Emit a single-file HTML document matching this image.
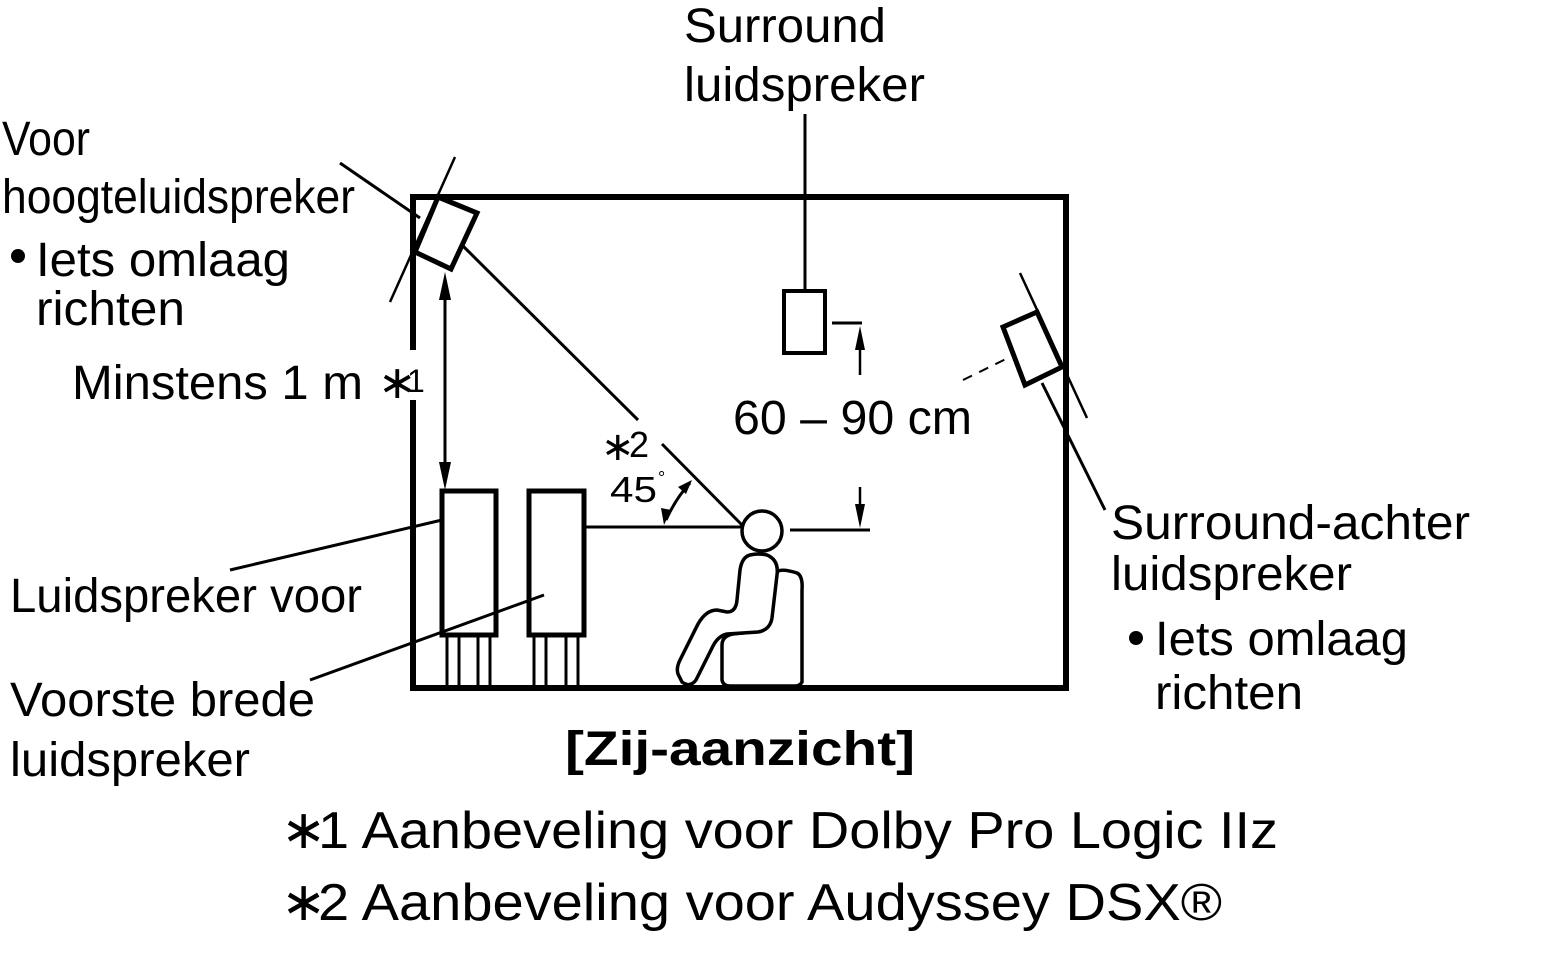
<!DOCTYPE html>
<html><head><meta charset="utf-8"><style>
html,body{margin:0;padding:0;background:#fff}
svg{display:block}
text{font-family:"Liberation Sans",sans-serif;font-size:48px;fill:#000}
</style></head><body>
<svg width="1560" height="956" viewBox="0 0 1560 956" xmlns="http://www.w3.org/2000/svg">
<g fill="none" stroke="#000">
<path d="M413,350 V197 H1066 V688 H413 V400" stroke-width="6"/>
<polygon points="438,197 477,213 451,269 415,252" fill="#fff" stroke-width="5"/>
<line x1="340" y1="163" x2="420" y2="218" stroke-width="3"/>
<line x1="455" y1="157" x2="390" y2="302" stroke-width="2.5"/>
<line x1="463" y1="246" x2="638" y2="420" stroke-width="3"/>
<line x1="662" y1="444" x2="742" y2="525" stroke-width="3"/>
<line x1="445" y1="300" x2="445" y2="462" stroke-width="3"/>
<path d="M445,272 L439,300 L451,300z M445,490 L439,462 L451,462z" fill="#000" stroke="none"/>
<rect x="442" y="491" width="54" height="144" fill="#fff" stroke-width="5"/>
<rect x="529" y="491" width="55" height="144" fill="#fff" stroke-width="5"/>
<g stroke-width="3">
<line x1="447" y1="636" x2="447" y2="686"/><line x1="459" y1="636" x2="459" y2="686"/><line x1="478" y1="636" x2="478" y2="686"/><line x1="490" y1="636" x2="490" y2="686"/>
<line x1="534" y1="636" x2="534" y2="686"/><line x1="546" y1="636" x2="546" y2="686"/><line x1="566" y1="636" x2="566" y2="686"/><line x1="578" y1="636" x2="578" y2="686"/>
</g>
<line x1="230" y1="570" x2="442" y2="520" stroke-width="3"/>
<line x1="310" y1="680" x2="544" y2="595" stroke-width="3"/>
<line x1="586" y1="527" x2="742" y2="527" stroke-width="3"/>
<path d="M666,520 Q676,498 690,483" stroke-width="3"/>
<path d="M664,525 L661,508 L671,510z M692,480 L678,487 L686,494z" fill="#000" stroke="none"/>
<circle cx="762" cy="531" r="20" stroke-width="3.5" fill="#fff"/>
<path d="M777,572 Q781,568 797,573 Q803,576 802,590 L802,682 Q800,686 795,686 L730,686 Q723,686 722,680 L722,645 Q722,636 733,634 L752,632" stroke-width="3.5" fill="#fff"/>
<path d="M750,555 Q758,553 767,555 Q779,560 777,575 L772,618 Q770,630 758,632 L727,634 Q718,636 713,646 L696,680 Q690,688 682,682 L678,674 Q676,668 680,660 L698,624 Q706,610 717,610 L727,612 Q736,612 737,600 L740,570 Q742,557 750,555z" stroke-width="3.5" fill="#fff"/>
<line x1="805" y1="114" x2="805" y2="291" stroke-width="3"/>
<rect x="784" y="291" width="41" height="62" stroke-width="4"/>
<line x1="832" y1="323" x2="862" y2="323" stroke-width="3"/>
<line x1="790" y1="530" x2="870" y2="530" stroke-width="3"/>
<line x1="860" y1="375" x2="860" y2="350" stroke-width="2.5"/>
<line x1="860" y1="487" x2="860" y2="505" stroke-width="2.5"/>
<path d="M860,326 L855,350 L865,350z M860,528 L855,504 L865,504z" fill="#000" stroke="none"/>
<polygon points="1003,327 1037,312 1062,367 1025,385" fill="#fff" stroke-width="5"/>
<line x1="963" y1="380" x2="1010" y2="357" stroke-width="2" stroke-dasharray="10,8"/>
<line x1="1020" y1="273" x2="1087" y2="418" stroke-width="2.5"/>
<line x1="1042" y1="383" x2="1105" y2="510" stroke-width="3"/>
</g>
<text x="684" y="42" textLength="202" lengthAdjust="spacingAndGlyphs">Surround</text>
<text x="684" y="101" textLength="241" lengthAdjust="spacingAndGlyphs">luidspreker</text>
<text x="2" y="155" textLength="88" lengthAdjust="spacingAndGlyphs">Voor</text>
<text x="2" y="213" textLength="353" lengthAdjust="spacingAndGlyphs">hoogteluidspreker</text>
<circle cx="18" cy="256" r="7" fill="#000"/>
<text x="36" y="276" textLength="254" lengthAdjust="spacingAndGlyphs">Iets omlaag</text>
<text x="36" y="325" textLength="149" lengthAdjust="spacingAndGlyphs">richten</text>
<text x="72" y="399" textLength="291" lengthAdjust="spacingAndGlyphs">Minstens 1 m</text>
<text x="378" y="398" style="font-size:46px">∗</text>
<text x="407" y="392" style="font-size:32px">1</text>
<text x="733" y="434" textLength="239" lengthAdjust="spacingAndGlyphs">60 – 90 cm</text>
<text x="601" y="460" style="font-size:40px">∗</text>
<text x="629" y="457" style="font-size:36px">2</text>
<text x="610" y="502" style="font-size:36px" textLength="47" lengthAdjust="spacingAndGlyphs">45</text>
<text x="658" y="484" style="font-size:18px">°</text>
<text x="1111" y="539" textLength="359" lengthAdjust="spacingAndGlyphs">Surround-achter</text>
<text x="1111" y="590" textLength="241" lengthAdjust="spacingAndGlyphs">luidspreker</text>
<circle cx="1136" cy="638" r="7" fill="#000"/>
<text x="1155" y="655" textLength="253" lengthAdjust="spacingAndGlyphs">Iets omlaag</text>
<text x="1155" y="709" textLength="148" lengthAdjust="spacingAndGlyphs">richten</text>
<text x="10" y="612" textLength="352" lengthAdjust="spacingAndGlyphs">Luidspreker voor</text>
<text x="10" y="716" textLength="305" lengthAdjust="spacingAndGlyphs">Voorste brede</text>
<text x="10" y="776" textLength="240" lengthAdjust="spacingAndGlyphs">luidspreker</text>
<text x="565" y="765" style="font-weight:bold" textLength="350" lengthAdjust="spacingAndGlyphs">[Zij-aanzicht]</text>
<text x="281" y="848" style="font-size:54px">∗</text>
<text x="318" y="848" style="font-size:52px" textLength="960" lengthAdjust="spacingAndGlyphs">1 Aanbeveling voor Dolby Pro Logic IIz</text>
<text x="281" y="920" style="font-size:54px">∗</text>
<text x="318" y="920" style="font-size:52px" textLength="904" lengthAdjust="spacingAndGlyphs">2 Aanbeveling voor Audyssey DSX®</text>
</svg>
</body></html>
